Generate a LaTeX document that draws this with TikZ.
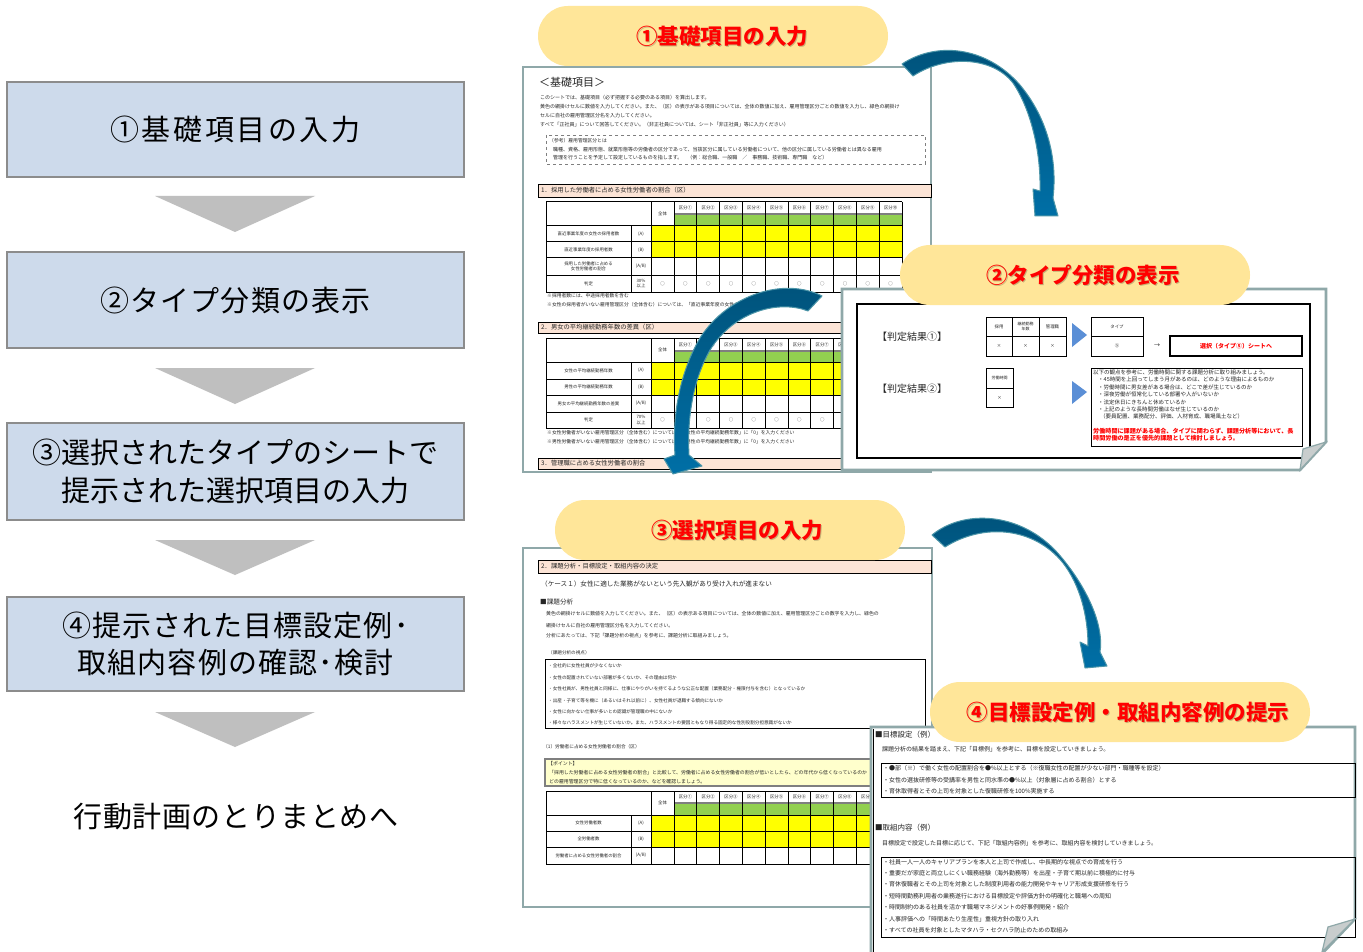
\documentclass[tikz,border=0pt]{standalone}
\usepackage{fontspec}
\setmainfont{Noto Sans CJK JP}
\newcommand{\fsz}[2]{\fontsize{#1}{#2}\selectfont}
\definecolor{boxblue}{HTML}{CDDAEB}
\definecolor{boxline}{HTML}{8C8C8C}
\definecolor{chev}{HTML}{BFBFBF}
\definecolor{pillc}{HTML}{FFE699}
\definecolor{framec}{HTML}{8FA8A9}
\definecolor{peach}{HTML}{FCE4D6}
\definecolor{cgreen}{HTML}{92D050}
\definecolor{cyellow}{HTML}{FFFF00}
\definecolor{adark}{HTML}{00527A}
\definecolor{alight}{HTML}{006FA6}
\definecolor{aedge}{HTML}{4C95A8}
\definecolor{tri}{HTML}{5B8FD6}
\definecolor{txt}{HTML}{262626}
\definecolor{pointbg}{HTML}{FFFFCC}
\definecolor{curlc}{HTML}{C8CDCD}
\definecolor{hdrgray}{HTML}{7F7F7F}
\tikzset{
  stepbox/.style={draw=boxline, line width=1.2pt, fill=boxblue, minimum width=457, inner sep=0pt, align=center, text=black},
  chevron/.style={fill=chev, draw=none},
  pillbox/.style={fill=pillc, draw=none, rounded corners=30, minimum height=60, inner sep=0pt},
  pilltext/.style={text=red, font=\bfseries\fsz{21.5}{23}, inner sep=0pt},
  pillshadow/.style={text=black, opacity=0.22, font=\bfseries\fsz{21.5}{23}, inner sep=0pt},
  pagec/.style={draw=framec, line width=2.6pt, fill=white, line join=miter},
  curl/.style={fill=curlc, draw=framec, line width=1.2pt, line join=miter},
  tx/.style={anchor=west, inner sep=0pt, text=txt},
  cell/.style={inner sep=0pt, text=txt, font=\fsz{4.4}{5.2}, align=center},
  grid/.style={draw=black, line width=1pt},
  hdrline/.style={draw=hdrgray, line width=1.2pt},
  bar/.style={fill=peach, draw=black, line width=0.9pt},
  bigarrow/.style={top color=adark, bottom color=alight, draw=aedge, line width=1pt, line join=round},
  rtri/.style={fill=tri, draw=none},
}
\newcommand{\sheetgrid}[5]{%
  \fill[cgreen] (674,#3) rectangle (902,#4);
  \draw[hdrline] (674,#3) -- (902,#3);
  \foreach \xx in {546,651,674,696.8,719.6,742.4,765.2,788,810.8,833.6,856.4,879.2,902}
    \draw[grid] (\xx,#2) -- (\xx,#5);
  \draw[grid] (631,#4) -- (631,#5);
  \draw[grid] (546,#2) -- (902,#2);
  \draw[grid] (546,#4) -- (902,#4);
  \draw[grid] (546,#5) -- (902,#5);
  \node[cell] (#1-all) at (662.5,{(#2+#4)/2}) {全体};
  \foreach \lab [count=\i] in {①,②,③,④,⑤,⑥,⑦,⑧,⑨,⑩}
    \node[cell] (#1-k\i) at ({662.6+22.8*\i},{(#2+#3)/2}) {区分\lab};
}
\newcommand{\sheetrow}[4]{%
  \node[cell] (#1-l) at (588.5,#2) {#3};
  \node[cell] (#1-c) at (641,#2) {#4};
}
\newcommand{\judgecircles}[2]{%
  \foreach \i in {0,...,10}
    \node[cell] (#1-o\i) at ({662.6+22.8*\i},#2) {○};
}
\begin{document}
\begin{tikzpicture}[x=1pt,y=-1pt]
\useasboundingbox (0,0) rectangle (1363,952);
\fill[white] (0,0) rectangle (1363,952);

%================ LEFT COLUMN =================
\node[stepbox, minimum height=95, font=\fsz{29}{38}\addfontfeature{LetterSpace=9}] (s1) at (235.5,129.5) {①基礎項目の入力};
\node[stepbox, minimum height=96, font=\fsz{29}{38}\addfontfeature{LetterSpace=4}] (s2) at (235.5,300) {②タイプ分類の表示};
\node[stepbox, minimum height=97, font=\fsz{29}{38}] (s3) at (235.5,471.5) {③選択されたタイプのシートで\\提示された選択項目の入力};
\node[stepbox, minimum height=94, font=\fsz{29}{37}\addfontfeature{LetterSpace=4}] (s4) at (235.5,644) {④提示された目標設定例･\\取組内容例の確認･検討};
\node[inner sep=0pt, font=\fsz{29}{36}\addfontfeature{LetterSpace=2}] (s5) at (236,817) {行動計画のとりまとめへ};
\fill[chevron] (155,196) -- (315,196) -- (235,232) -- cycle;
\fill[chevron] (155,368) -- (315,368) -- (235,404) -- cycle;
\fill[chevron] (155,540) -- (315,540) -- (235,575) -- cycle;
\fill[chevron] (155,712) -- (315,712) -- (235,747) -- cycle;

%================ SCREENSHOT 1 =================
\draw[pagec] (523,67) rectangle (931,472);
\node[tx, font=\fsz{11}{12}] (b1h) at (539,82) {＜基礎項目＞};
\node[tx, font=\fsz{5}{6}] (b1l1) at (540,98) {このシートでは、基礎項目（必ず把握する必要のある項目）を算出します。};
\node[tx, font=\fsz{5}{6}] (b1l2) at (540,107) {黄色の網掛けセルに数値を入力してください。また、（区）の表示がある項目については、全体の数値に加え、雇用管理区分ごとの数値を入力し、緑色の網掛け};
\node[tx, font=\fsz{5}{6}] (b1l3) at (540,116) {セルに自社の雇用管理区分名を入力してください。};
\node[tx, font=\fsz{5}{6}] (b1l4) at (540,125) {すべて「正社員」について回答してください。（非正社員については、シート「非正社員」等に入力ください）};
\draw[dashed, draw=hdrgray, line width=0.8pt] (546,135) rectangle (925,164);
\node[tx, font=\fsz{4.8}{5}] (b1r1) at (549,141) {（参考）雇用管理区分とは};
\node[tx, font=\fsz{5}{6}] (b1r2) at (553,149.5) {職種、資格、雇用形態、就業形態等の労働者の区分であって、当該区分に属している労働者について、他の区分に属している労働者とは異なる雇用};
\node[tx, font=\fsz{5}{6}] (b1r3) at (553,158) {管理を行うことを予定して設定しているものを指します。　（例：総合職、一般職　／　事務職、技術職、専門職　など）};
% section 1
\draw[bar] (538,184) rectangle (931,197);
\node[tx, font=\fsz{6.3}{7}] (b1s1) at (541,190.5) {1．採用した労働者に占める女性労働者の割合（区）};
\fill[cyellow] (651,226) rectangle (902,258);
\sheetgrid{ta}{202}{214}{226}{292}
\foreach \yy in {242,258,275} \draw[grid] (546,\yy) -- (902,\yy);
\sheetrow{ta1}{234}{直近事業年度の女性の採用者数}{(A)}
\sheetrow{ta2}{250}{直近事業年度の採用者数}{(B)}
\sheetrow{ta3}{266.5}{採用した労働者に占める\\女性労働者の割合}{(A/B)}
\sheetrow{ta4}{283.5}{判定}{30\%\\以上}
\judgecircles{ta}{283.5}
\node[tx, font=\fsz{4.8}{5}] (b1n1) at (547,296) {※採用者数には、中途採用者数を含む};
\node[tx, font=\fsz{4.8}{5}] (b1n2) at (547,305) {※女性の採用者がいない雇用管理区分（全体含む）については、「直近事業年度の女性の採用者数」に「0」を入力ください};
% section 2
\draw[bar] (538,322) rectangle (931,333);
\node[tx, font=\fsz{6.3}{7}] (b1s2) at (541,327.5) {2．男女の平均継続勤務年数の差異（区）};
\fill[cyellow] (651,362) rectangle (902,395);
\sheetgrid{tb}{338}{351}{362}{428}
\foreach \yy in {379,395,412} \draw[grid] (546,\yy) -- (902,\yy);
\sheetrow{tb1}{370.5}{女性の平均継続勤務年数}{(A)}
\sheetrow{tb2}{387}{男性の平均継続勤務年数}{(B)}
\sheetrow{tb3}{403.5}{男女の平均継続勤務年数の差異}{(A/B)}
\sheetrow{tb4}{420}{判定}{70\%\\以上}
\judgecircles{tb}{420}
\node[tx, font=\fsz{4.8}{5}] (b1n3) at (547,433) {※女性労働者がいない雇用管理区分（全体含む）については、「女性の平均継続勤務年数」に「0」を入力ください};
\node[tx, font=\fsz{4.8}{5}] (b1n4) at (547,442) {※男性労働者がいない雇用管理区分（全体含む）については、「男性の平均継続勤務年数」に「0」を入力ください};
% section 3
\draw[bar] (538,458) rectangle (931,469);
\node[tx, font=\fsz{6.3}{7}] (b1s3) at (541,463.5) {3．管理職に占める女性労働者の割合};

%================ ARROW 2 =================
\path[bigarrow] (822,296) .. controls (785,277) and (728,294) .. (700,338)
  .. controls (680,372) and (672,415) .. (675,455)
  -- (664,459) -- (673,474) -- (702,466) -- (689,455)
  .. controls (687,418) and (693,380) .. (710,350)
  .. controls (735,310) and (780,300) .. (808,311) -- cycle;

%================ SCREENSHOT 2 =================
\draw[pagec] (842,289) -- (1326,289) -- (1326,442) -- (1300,470) -- (842,470) -- cycle;
\draw[line width=1.3pt] (857,304) rectangle (1310,458);
\node[tx, font=\fsz{10}{11}] (j1) at (877,337) {【判定結果①】};
\node[tx, font=\fsz{10}{11}] (j2) at (877,389) {【判定結果②】};
\draw[grid] (986,317) rectangle (1066,356);
\draw[grid] (986,336) -- (1066,336);
\draw[grid] (1012,317) -- (1012,356);
\draw[grid] (1039,317) -- (1039,356);
\node[cell] (ja1) at (999,326.5) {採用};
\node[cell, font=\fsz{4}{4.6}] (ja2) at (1025.5,326.5) {継続勤務\\年数};
\node[cell] (ja3) at (1052.5,326.5) {管理職};
\node[cell] (jx1) at (999,346) {×};
\node[cell] (jx2) at (1025.5,346) {×};
\node[cell] (jx3) at (1052.5,346) {×};
\fill[rtri] (1072,323) -- (1087,335) -- (1072,347) -- cycle;
\draw[grid] (1091,317) rectangle (1143,356);
\draw[grid] (1091,336) -- (1143,336);
\node[cell] (jt1) at (1117,326.5) {タイプ};
\node[cell] (jt2) at (1117,346) {⑤};
\node[inner sep=0pt, font=\fsz{6}{6}, text=txt] (jarr) at (1157,346) {→};
\draw[line width=2.2pt] (1170,336) rectangle (1302,356);
\node[inner sep=0pt, text=red, font=\bfseries\fsz{6}{7}] (jsel) at (1236,346) {選択（タイプ⑤）シートへ};
\draw[grid] (986,368) rectangle (1013,407);
\draw[grid] (986,388) -- (1013,388);
\node[cell, font=\fsz{4}{4.6}] (jb1) at (999.5,378) {労働時間};
\node[cell] (jb2) at (999.5,397.5) {×};
\fill[rtri] (1072,381) -- (1087,392) -- (1072,404) -- cycle;
\draw[line width=1pt] (1091,368) rectangle (1302,446);
\node[tx, font=\fsz{5.5}{6}] (jl1) at (1093,372) {以下の観点を参考に、労働時間に関する課題分析に取り組みましょう。};
\node[tx, font=\fsz{5.5}{6}] (jl2) at (1098,379.5) {・45時間を上回ってしまう月があるのは、どのような理由によるものか};
\node[tx, font=\fsz{5.5}{6}] (jl3) at (1098,387) {・労働時間に男女差がある場合は、どこで差が生じているのか};
\node[tx, font=\fsz{5.5}{6}] (jl4) at (1098,394) {・深夜労働が恒常化している部署や人がいないか};
\node[tx, font=\fsz{5.5}{6}] (jl5) at (1098,402) {・法定休日にきちんと休めているか};
\node[tx, font=\fsz{5.5}{6}] (jl6) at (1098,409) {・上記のような長時間労働はなぜ生じているのか};
\node[tx, font=\fsz{5.5}{6}] (jl7) at (1100,416) {（要員配置、業務配分、評価、人材育成、職場風土など）};
\node[tx, text=red, font=\bfseries\fsz{6.1}{7}] (jr1) at (1093,431) {労働時間に課題がある場合、タイプに関わらず、課題分析等において、長};
\node[tx, text=red, font=\bfseries\fsz{6.1}{7}] (jr2) at (1093,438.5) {時間労働の是正を優先的課題として検討しましょう。};
\path[curl] (1326,442) -- (1303,449) -- (1300,470) -- cycle;

%================ PILLS 1, 2 =================
\node[pillbox, minimum width=350] (p1) at (713,36) {};
\node[pillshadow] at (723.2,37.5) {①基礎項目の入力};
\node[pilltext] (p1t) at (722,36) {①基礎項目の入力};
\node[pillbox, minimum width=350] (p2) at (1075,275) {};
\node[pillshadow] at (1084.2,276.5) {②タイプ分類の表示};
\node[pilltext] (p2t) at (1083,275) {②タイプ分類の表示};

%================ ARROW 1 =================
\path[bigarrow] (902,64) .. controls (935,42) and (985,45) .. (1020,85)
  .. controls (1045,115) and (1058,155) .. (1053,198)
  -- (1058,216) -- (1035,216) -- (1033,189) -- (1040,191)
  .. controls (1041,150) and (1030,108) .. (1013,83)
  .. controls (992,56) and (945,55) .. (913,76) -- cycle;

%================ SCREENSHOT 3 =================
\draw[pagec] (523,548) rectangle (932,907);
\draw[bar] (538,560) rectangle (931,573);
\node[tx, font=\fsz{6.3}{7}] (c1s) at (541,566.5) {2．課題分析・目標設定・取組内容の決定};
\node[tx, font=\fsz{6.6}{7}] (c1a) at (541,584) {（ケース１）女性に適した業務がないという先入観があり受け入れが進まない};
\node[tx, font=\fsz{6.6}{7}] (c1b) at (540,602) {■課題分析};
\node[tx, font=\fsz{4.9}{5}] (c1c) at (546,614) {黄色の網掛けセルに数値を入力してください。また、（区）の表示ある項目については、全体の数値に加え、雇用管理区分ごとの数字を入力し、緑色の};
\node[tx, font=\fsz{4.9}{5}] (c1d) at (546,626) {網掛けセルに自社の雇用管理区分名を入力してください。};
\node[tx, font=\fsz{4.9}{5}] (c1e) at (546,636) {分析にあたっては、下記「課題分析の視点」を参考に、課題分析に取組みましょう。};
\node[tx, font=\fsz{4.6}{5}] (c1f) at (548,653) {（課題分析の視点）};
\draw[line width=1pt] (545,659) rectangle (925,728);
\node[tx, font=\fsz{4.6}{5}] (c1g1) at (548,666) {・全社的に女性社員が少なくないか};
\node[tx, font=\fsz{4.6}{5}] (c1g2) at (548,678) {・女性の配置されていない部署が多くないか、その理由は何か};
\node[tx, font=\fsz{4.6}{5}] (c1g3) at (548,689) {・女性社員が、男性社員と同様に、仕事にやりがいを持てるような公正な配置（業務配分・権限付与を含む）となっているか};
\node[tx, font=\fsz{4.6}{5}] (c1g4) at (548,701) {・出産・子育て等を機に（あるいはそれ以前に）、女性社員が退職する傾向にないか};
\node[tx, font=\fsz{4.6}{5}] (c1g5) at (548,712) {・女性に向かない仕事が多いとの認識が管理職の中にないか};
\node[tx, font=\fsz{4.6}{5}] (c1g6) at (548,723) {・様々なハラスメントが生じていないか。また、ハラスメントの要因ともなり得る固定的な性別役割分担意識がないか};
\node[tx, font=\fsz{4.7}{5}] (c1h) at (543,747) {（1）労働者に占める女性労働者の割合（区）};
\draw[fill=pointbg, draw=hdrgray, line width=1.2pt] (545,759) rectangle (900,786);
\node[tx, font=\fsz{4.9}{5}] (c1p1) at (548,763.5) {【ポイント】};
\node[tx, font=\fsz{4.9}{5}] (c1p2) at (549,773) {「採用した労働者に占める女性労働者の割合」と比較して、労働者に占める女性労働者の割合が低いとしたら、どの年代から低くなっているのか};
\node[tx, font=\fsz{4.9}{5}] (c1p3) at (549,782) {どの雇用管理区分で特に低くなっているのか、などを確認しましょう。};
\fill[cyellow] (651,815) rectangle (902,847);
\sheetgrid{tc}{791}{803}{815}{864}
\foreach \yy in {831,847} \draw[grid] (546,\yy) -- (902,\yy);
\sheetrow{tc1}{823}{女性労働者数}{(A)}
\sheetrow{tc2}{839}{全労働者数}{(B)}
\sheetrow{tc3}{855.5}{労働者に占める女性労働者の割合}{(A/B)}

%================ SCREENSHOT 4 =================
\draw[pagec] (871,962) -- (871,727) -- (1355,727) -- (1355,919) -- (1318,958);
\draw[line width=1.2pt] (873.5,729) -- (873.5,955);
\node[tx, font=\fsz{7.5}{8}] (d1) at (875,735) {■目標設定（例）};
\node[tx, font=\fsz{6}{7}] (d2) at (882,749) {課題分析の結果を踏まえ、下記「目標例」を参考に、目標を設定していきましょう。};
\draw[line width=1pt] (881,763) rectangle (1355,797);
\node[tx, font=\fsz{6}{7}] (d3) at (883,768) {・●部（※）で働く女性の配置割合を●\%以上とする（※復職女性の配置が少ない部門・職種等を設定）};
\node[tx, font=\fsz{6}{7}] (d4) at (883,780) {・女性の選抜研修等の受講率を男性と同水準の●\%以上（対象層に占める割合）とする};
\node[tx, font=\fsz{6}{7}] (d5) at (883,791) {・育休取得者とその上司を対象とした復職研修を100\%実施する};
\node[tx, font=\fsz{7.5}{8}] (d6) at (875,828) {■取組内容（例）};
\node[tx, font=\fsz{6}{7}] (d7) at (882,843) {目標設定で設定した目標に応じて、下記「取組内容例」を参考に、取組内容を検討していきましょう。};
\draw[line width=1pt] (881,857) rectangle (1355,937);
\node[tx, font=\fsz{6}{7}] (e1) at (883,862) {・社員一人一人のキャリアプランを本人と上司で作成し、中長期的な視点での育成を行う};
\node[tx, font=\fsz{6}{7}] (e2) at (883,873) {・重要だが家庭と両立しにくい職務経験（海外勤務等）を出産・子育て期以前に積極的に付与};
\node[tx, font=\fsz{6}{7}] (e3) at (883,884) {・育休復職者とその上司を対象とした制度利用者の能力開発やキャリア形成支援研修を行う};
\node[tx, font=\fsz{6}{7}] (e4) at (883,896) {・短時間勤務利用者の業務遂行における目標設定や評価方針の明確化と職場への周知};
\node[tx, font=\fsz{6}{7}] (e5) at (883,907) {・時間制約のある社員を活かす職場マネジメントの好事例開発・紹介};
\node[tx, font=\fsz{6}{7}] (e6) at (883,919) {・人事評価への「時間あたり生産性」重視方針の取り入れ};
\node[tx, font=\fsz{6}{7}] (e7) at (883,930) {・すべての社員を対象としたマタハラ・セクハラ防止のための取組み};
\path[curl] (1355,919) -- (1328,927) -- (1322,952) -- cycle;

%================ PILLS 3, 4 =================
\node[pillbox, minimum width=350] (p3) at (730,530) {};
\node[pillshadow] at (738.2,531.5) {③選択項目の入力};
\node[pilltext] (p3t) at (737,530) {③選択項目の入力};
\node[pillbox, minimum width=380] (p4) at (1120,712) {};
\node[pillshadow] at (1129.2,713.5) {④目標設定例・取組内容例の提示};
\node[pilltext] (p4t) at (1128,712) {④目標設定例・取組内容例の提示};

%================ ARROW 3 =================
\path[bigarrow] (932,535) .. controls (965,508) and (1025,512) .. (1062,558)
  .. controls (1090,592) and (1104,628) .. (1100,652)
  -- (1107,666) -- (1085,668) -- (1080,642) -- (1088,646)
  .. controls (1088,616) and (1080,585) .. (1063,563)
  .. controls (1035,528) and (985,522) .. (945,547) -- cycle;
\end{tikzpicture}
\end{document}
